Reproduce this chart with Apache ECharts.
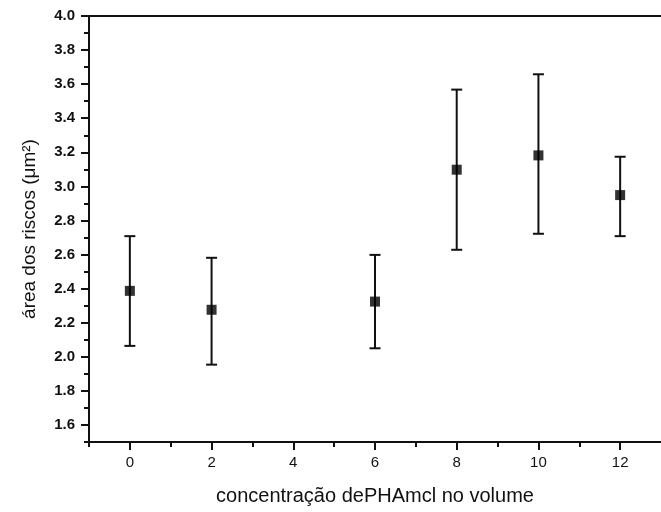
<!DOCTYPE html>
<html>
<head>
<meta charset="utf-8">
<script src="https://cdn.jsdelivr.net/npm/echarts@6/dist/echarts.min.js"></script>
<style>
  html, body { margin: 0; padding: 0; background: #fff; }
  #chart { width: 661px; height: 512px; }
</style>
</head>
<body>
<div id="chart"></div>
<script>
// PHAmcl concentration in the volume (x) and scratch area (y, µm²)
const concentrations = [0, 2, 6, 8, 10, 12];
const meanArea = [2.387, 2.276, 2.324, 3.098, 3.182, 2.949];
const lowArea = [2.064, 1.954, 2.050, 2.628, 2.722, 2.708];
const highArea = [2.708, 2.581, 2.598, 3.568, 3.658, 3.174];

const xMajorTicks = [0, 2, 4, 6, 8, 10, 12];
const xMinorTicks = [-1, 1, 3, 5, 7, 9, 11];
const yMajorTicks = [1.6, 1.8, 2.0, 2.2, 2.4, 2.6, 2.8, 3.0, 3.2, 3.4, 3.6, 3.8, 4.0];
const yMinorTicks = [1.5, 1.7, 1.9, 2.1, 2.3, 2.5, 2.7, 2.9, 3.1, 3.3, 3.5, 3.7, 3.9];

const FONT = 'Liberation Sans, Arial, sans-serif';
const INK = '#111';
const axisLine = { show: true, onZero: false, lineStyle: { color: INK, width: 2 } };
const noLine = { show: false, onZero: false };

const chart = echarts.init(document.getElementById('chart'));

const meanPoints = concentrations.map((c, i) => [c, meanArea[i]]);
const errorBars = concentrations.map((c, i) => [c, lowArea[i], highArea[i]]);

chart.setOption({
  animation: false,
  backgroundColor: '#fff',
  grid: { left: 89, right: -6, top: 16, bottom: 70 },
  xAxis: [
    {
      type: 'value', min: -1, max: 13, position: 'bottom',
      axisLine: axisLine,
      splitLine: { show: false },
      axisTick: { show: true, customValues: xMajorTicks, length: 8, lineStyle: { color: INK, width: 2 } },
      axisLabel: { show: true, customValues: xMajorTicks, margin: 13, fontFamily: FONT, fontSize: 15, color: INK },
      name: 'concentração dePHAmcl no volume',
      nameLocation: 'middle', nameGap: 44,
      nameTextStyle: { fontFamily: FONT, fontSize: 20, color: INK }
    },
    {
      type: 'value', min: -1, max: 13, position: 'bottom',
      axisLine: noLine,
      splitLine: { show: false },
      axisTick: { show: true, customValues: xMinorTicks, length: 5, lineStyle: { color: INK, width: 2 } },
      axisLabel: { show: false }
    },
    {
      type: 'value', min: -1, max: 13, position: 'top',
      axisLine: axisLine,
      splitLine: { show: false },
      axisTick: { show: false },
      axisLabel: { show: false }
    }
  ],
  yAxis: [
    {
      type: 'value', min: 1.5, max: 4.0, position: 'left',
      axisLine: axisLine,
      splitLine: { show: false },
      axisTick: { show: true, customValues: yMajorTicks, length: 8, lineStyle: { color: INK, width: 2 } },
      axisLabel: {
        show: true, customValues: yMajorTicks, margin: 14,
        fontFamily: FONT, fontSize: 15, fontWeight: 'bold', color: INK,
        padding: [0, 0, 5, 0],
        formatter: v => v.toFixed(1)
      },
      name: 'área dos riscos (μm²)',
      nameLocation: 'middle', nameGap: 50,
      nameTextStyle: { fontFamily: FONT, fontSize: 19, color: INK }
    },
    {
      type: 'value', min: 1.5, max: 4.0, position: 'left',
      axisLine: noLine,
      splitLine: { show: false },
      axisTick: { show: true, customValues: yMinorTicks, length: 5, lineStyle: { color: INK, width: 2 } },
      axisLabel: { show: false }
    }
  ],
  series: [
    {
      type: 'custom',
      xAxisIndex: 0, yAxisIndex: 0,
      data: errorBars,
      renderItem: function (params, api) {
        const x = api.value(0);
        const lo = api.coord([x, api.value(1)]);
        const hi = api.coord([x, api.value(2)]);
        const half = 5.5;
        const style = { stroke: INK, lineWidth: 2, fill: null };
        return {
          type: 'group',
          children: [
            { type: 'line', shape: { x1: lo[0], y1: lo[1], x2: hi[0], y2: hi[1] }, style: style },
            { type: 'line', shape: { x1: hi[0] - half, y1: hi[1], x2: hi[0] + half, y2: hi[1] }, style: style },
            { type: 'line', shape: { x1: lo[0] - half, y1: lo[1], x2: lo[0] + half, y2: lo[1] }, style: style }
          ]
        };
      },
      z: 2
    },
    {
      type: 'scatter',
      xAxisIndex: 0, yAxisIndex: 0,
      data: meanPoints,
      symbol: 'rect',
      symbolSize: 10,
      itemStyle: { color: '#000' },
      z: 3
    }
  ]
});
</script>
</body>
</html>
